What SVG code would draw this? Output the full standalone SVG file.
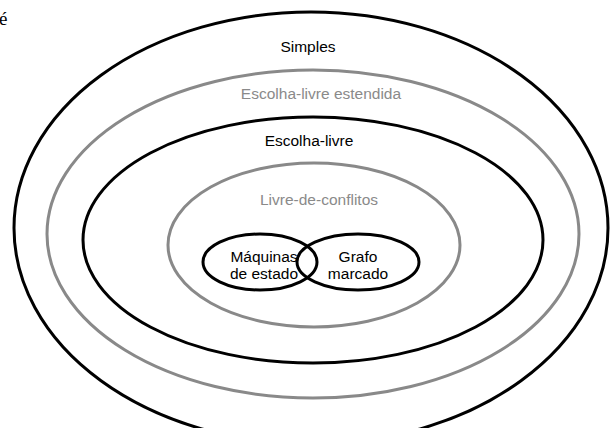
<svg xmlns="http://www.w3.org/2000/svg" width="611" height="428" viewBox="0 0 611 428">
<style>
.bk{fill:none;stroke:#000;stroke-width:3}
.gr{fill:none;stroke:#898989;stroke-width:3}
text{font-family:"Liberation Sans",Arial,sans-serif;font-size:15.5px;text-anchor:middle}
.tb{fill:#000}
.tg{fill:#8a8a8a}
</style>
<rect width="611" height="428" fill="#fff"/>
<text x="-1" y="25" style="font-family:'Liberation Serif',serif;font-size:19px;text-anchor:start">é</text>
<g id="simples">
<ellipse class="bk" cx="311" cy="228" rx="297" ry="216"/>
<text class="tb" x="308" y="52">Simples</text>
</g>
<g id="escolha-livre-estendida">
<ellipse class="gr" cx="313" cy="234" rx="266" ry="164"/>
<text class="tg" x="321" y="99">Escolha-livre estendida</text>
</g>
<g id="escolha-livre">
<ellipse class="bk" cx="313" cy="240" rx="230" ry="123"/>
<text class="tb" x="309" y="146">Escolha-livre</text>
</g>
<g id="livre-de-conflitos">
<ellipse class="gr" cx="314" cy="245" rx="146" ry="82"/>
<text class="tg" x="319" y="205">Livre-de-conflitos</text>
</g>
<g id="maquinas-de-estado">
<ellipse class="bk" cx="260" cy="262" rx="57" ry="28"/>
<text class="tb" x="264" y="262">Máquinas</text>
<text class="tb" x="264" y="279">de estado</text>
</g>
<g id="grafo-marcado">
<ellipse class="bk" cx="358" cy="262" rx="61" ry="28"/>
<text class="tb" x="358" y="262">Grafo</text>
<text class="tb" x="358" y="279">marcado</text>
</g>
</svg>
